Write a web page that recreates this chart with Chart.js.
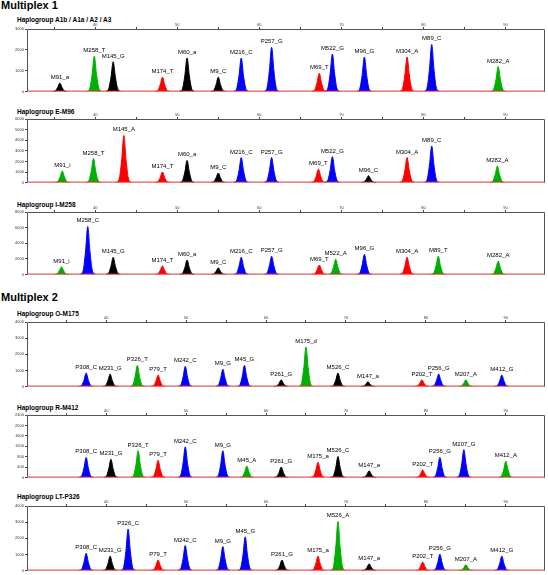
<!DOCTYPE html>
<html>
<head>
<meta charset="utf-8">
<script src="https://cdn.jsdelivr.net/npm/chart.js@4.4.1/dist/chart.umd.min.js"></script>
<style>
body { margin: 0; background: #fff; }
#page { position: relative; width: 548px; height: 575px; overflow: hidden; font-family: Arial, "Liberation Sans", sans-serif; }
.mp { position: absolute; left: 1px; font-size: 11px; font-weight: bold; line-height: 11px; color: #000; }
.hg { position: absolute; left: 17px; font-size: 6.5px; font-weight: bold; line-height: 7px; color: #000; white-space: nowrap; }
canvas { position: absolute; left: 0; }
</style>
</head>
<body>
<div id="page">
  <div class="mp" style="top:0px">Multiplex 1</div>
  <div class="hg" style="top:16px">Haplogroup A1b / A1a / A2 / A3</div>
  <canvas id="c1" width="548" height="74" style="top:21px"></canvas>
  <div class="hg" style="top:108px">Haplogroup E-M96</div>
  <canvas id="c2" width="548" height="75" style="top:111px"></canvas>
  <div class="hg" style="top:201px">Haplogroup I-M258</div>
  <canvas id="c3" width="548" height="74" style="top:204px"></canvas>

  <div class="mp" style="top:292px">Multiplex 2</div>
  <div class="hg" style="top:310px">Haplogroup O-M175</div>
  <canvas id="c4" width="548" height="76" style="top:314px"></canvas>
  <div class="hg" style="top:404px">Haplogroup R-M412</div>
  <canvas id="c5" width="548" height="74" style="top:407px"></canvas>
  <div class="hg" style="top:493px">Haplogroup LT-P326</div>
  <canvas id="c6" width="548" height="76" style="top:498px"></canvas>
</div>
<script>
// size axis (bp) shown on top of each trace
const m1Range = [31.7, 94.8];
const m2Range = [30.1, 94.9];

// Multiplex 1 - Haplogroup A1b / A1a / A2 / A3
const a1Names  = ['M91_a','M258_T','M145_G','M174_T','M60_a','M9_C','M216_C','P257_G','M69_T','M522_G','M96_G','M304_A','M89_C','M282_A'];
const a1Pos    = [35.7, 39.9, 42.2, 48.2, 51.2, 55.0, 57.8, 61.5, 67.3, 68.9, 72.8, 78.0, 81.0, 89.1];
const a1Height = [410, 1700, 1430, 690, 1610, 690, 1610, 2120, 880, 1800, 1660, 1660, 2260, 1200];
const a1Dye    = ['K','G','K','R','K','K','B','B','R','B','B','R','B','G'];

// Multiplex 1 - Haplogroup E-M96
const eNames  = ['M91_i','M258_T','M145_A','M174_T','M60_a','M9_C','M216_C','P257_G','M69_T','M522_G','M96_C','M304_A','M89_C','M282_A'];
const ePos    = [36.0, 39.8, 43.5, 48.2, 51.2, 55.0, 57.8, 61.5, 67.2, 68.9, 73.3, 78.0, 81.0, 89.0];
const eHeight = [1090, 2270, 4450, 1000, 2090, 910, 2360, 2360, 1270, 2450, 640, 2360, 3450, 1550];
const eDye    = ['G','G','R','R','K','K','B','B','R','B','K','R','B','G'];

// Multiplex 1 - Haplogroup I-M258
const iNames  = ['M91_i','M258_C','M145_G','M174_T','M60_a','M9_C','M216_C','P257_G','M69_T','M522_A','M96_G','M304_A','M89_T','M282_A'];
const iPos    = [35.9, 39.1, 42.2, 48.2, 51.2, 55.0, 57.8, 61.5, 67.3, 69.3, 72.8, 78.0, 81.8, 89.1];
const iHeight = [985, 6150, 2215, 1110, 1850, 860, 2215, 2340, 1230, 1970, 2580, 2215, 2340, 1720];
const iDye    = ['G','B','K','R','K','K','B','B','R','G','B','R','G','G'];

// Multiplex 2 - Haplogroup O-M175
const oNames  = ['P308_C','M231_G','P326_T','P79_T','M242_C','M9_G','M45_G','P261_G','M175_d','M526_C','M147_a','P202_T','P256_G','M207_A','M412_G'];
const oPos    = [37.5, 40.5, 43.9, 46.5, 49.9, 54.6, 57.3, 61.9, 65.0, 69.0, 72.75, 79.5, 81.6, 85.0, 89.5];
const oHeight = [836, 776, 1313, 716, 1254, 1075, 1313, 418, 2450, 836, 300, 418, 776, 418, 716];
const oDye    = ['B','K','G','R','B','B','B','K','G','K','K','R','B','G','B'];

// Multiplex 2 - Haplogroup R-M412
const rNames  = ['P308_C','M231_G','P326_T','P79_T','M242_C','M9_G','M45_A','P261_G','M175_a','M526_C','M147_a','P202_T','P256_G','M207_G','M412_A'];
const rPos    = [37.5, 40.6, 44.0, 46.5, 49.9, 54.6, 57.6, 61.9, 66.5, 69.0, 72.9, 79.6, 81.75, 84.75, 90.0];
const rHeight = [775, 700, 1030, 665, 1180, 1030, 443, 405, 590, 810, 260, 295, 775, 1070, 630];
const rDye    = ['B','K','G','R','B','B','G','K','R','K','K','R','B','B','G'];

// Multiplex 2 - Haplogroup LT-P326
const ltNames  = ['P308_C','M231_G','P326_C','P79_T','M242_C','M9_G','M45_G','P261_G','M175_a','M526_A','M147_a','P202_T','P256_G','M207_A','M412_G'];
const ltPos    = [37.5, 40.5, 42.75, 46.5, 49.9, 54.6, 57.4, 62.0, 66.5, 69.0, 72.9, 79.6, 81.75, 85.0, 89.5];
const ltHeight = [1075, 895, 2567, 657, 1550, 1490, 2090, 657, 895, 3045, 418, 537, 1015, 358, 895];
const ltDye    = ['B','K','B','R','B','B','B','K','R','G','K','R','B','G','B'];

const dyeColors = { B: '#0000ff', G: '#00b000', R: '#ff0000', K: '#000000' };

// outline of one electropherogram peak (relative to width / height)
const shapeX = [-1, -0.6, -0.3, 0, 0.3, 0.6, 1];
const shapeY = [0, 0.1, 0.48, 1, 0.48, 0.1, 0];
const peakWidth = 0.9;

const peakLabels = {
    id: 'peakLabels',
    afterDatasetsDraw(chart) {
        const ctx = chart.ctx;
        const xs = chart.scales.x, ys = chart.scales.y;
        ctx.save();
        ctx.font = '6px Arial, "Liberation Sans", sans-serif';
        ctx.fillStyle = '#000';
        ctx.textAlign = 'center';
        ctx.textBaseline = 'alphabetic';
        chart.data.datasets.forEach(ds => {
            ctx.fillText(ds.label, xs.getPixelForValue(ds.peakPos), ys.getPixelForValue(ds.peakHeight) - 4);
        });
        ctx.restore();
    }
};

const frame = {
    id: 'frame',
    afterDraw(chart) {
        const a = chart.chartArea, ctx = chart.ctx;
        ctx.save();
        ctx.lineWidth = 1;
        ctx.strokeStyle = '#555';
        ctx.beginPath();
        ctx.moveTo(a.left + 0.5, a.bottom);
        ctx.lineTo(a.left + 0.5, a.top + 0.5);
        ctx.lineTo(a.right - 0.5, a.top + 0.5);
        ctx.lineTo(a.right - 0.5, a.bottom);
        ctx.stroke();
        ctx.strokeStyle = '#e03030';
        ctx.beginPath();
        ctx.moveTo(a.left, a.bottom - 0.5);
        ctx.lineTo(a.right, a.bottom - 0.5);
        ctx.stroke();
        ctx.restore();
    }
};

function drawTrace(id, names, pos, heights, dyes, range, yMax, yStep) {
    const datasets = names.map((name, i) => ({
        label: name,
        peakPos: pos[i],
        peakHeight: heights[i],
        data: shapeX.map((o, k) => ({ x: pos[i] + o * peakWidth, y: heights[i] * shapeY[k] })),
        borderColor: dyeColors[dyes[i]],
        backgroundColor: dyeColors[dyes[i]],
        borderWidth: 1,
        fill: 'origin',
        pointRadius: 0,
        cubicInterpolationMode: 'monotone'
    }));
    new Chart(document.getElementById(id), {
        type: 'line',
        data: { datasets },
        plugins: [peakLabels, frame],
        options: {
            responsive: false,
            animation: false,
            layout: { padding: { top: 0, right: 3, bottom: 1, left: 0 } },
            plugins: { legend: { display: false }, tooltip: { enabled: false } },
            scales: {
                x: {
                    type: 'linear',
                    position: 'top',
                    min: range[0],
                    max: range[1],
                    afterFit: s => { s.height = 8; },
                    border: { display: false },
                    grid: { drawOnChartArea: false, tickLength: 2, color: '#444' },
                    ticks: {
                        stepSize: 5,
                        includeBounds: false,
                        maxRotation: 0,
                        autoSkip: false,
                        padding: 0,
                        color: '#333',
                        font: { size: 4 },
                        callback: v => (v % 10 === 0 ? String(v) : '')
                    }
                },
                y: {
                    min: 0,
                    max: yMax,
                    afterFit: s => { s.width = 27; },
                    border: { display: false },
                    grid: { drawOnChartArea: false, tickLength: 2, color: '#444' },
                    ticks: { stepSize: yStep, padding: 1, color: '#333', font: { size: 4 }, callback: v => String(v) }
                }
            }
        }
    });
}

drawTrace('c1', a1Names, a1Pos, a1Height, a1Dye, m1Range, 3000, 1000);
drawTrace('c2', eNames, ePos, eHeight, eDye, m1Range, 6000, 1000);
drawTrace('c3', iNames, iPos, iHeight, iDye, m1Range, 8000, 2000);
drawTrace('c4', oNames, oPos, oHeight, oDye, m2Range, 4000, 1000);
drawTrace('c5', rNames, rPos, rHeight, rDye, m2Range, 2400, 400);
drawTrace('c6', ltNames, ltPos, ltHeight, ltDye, m2Range, 4000, 1000);
</script>
</body>
</html>
